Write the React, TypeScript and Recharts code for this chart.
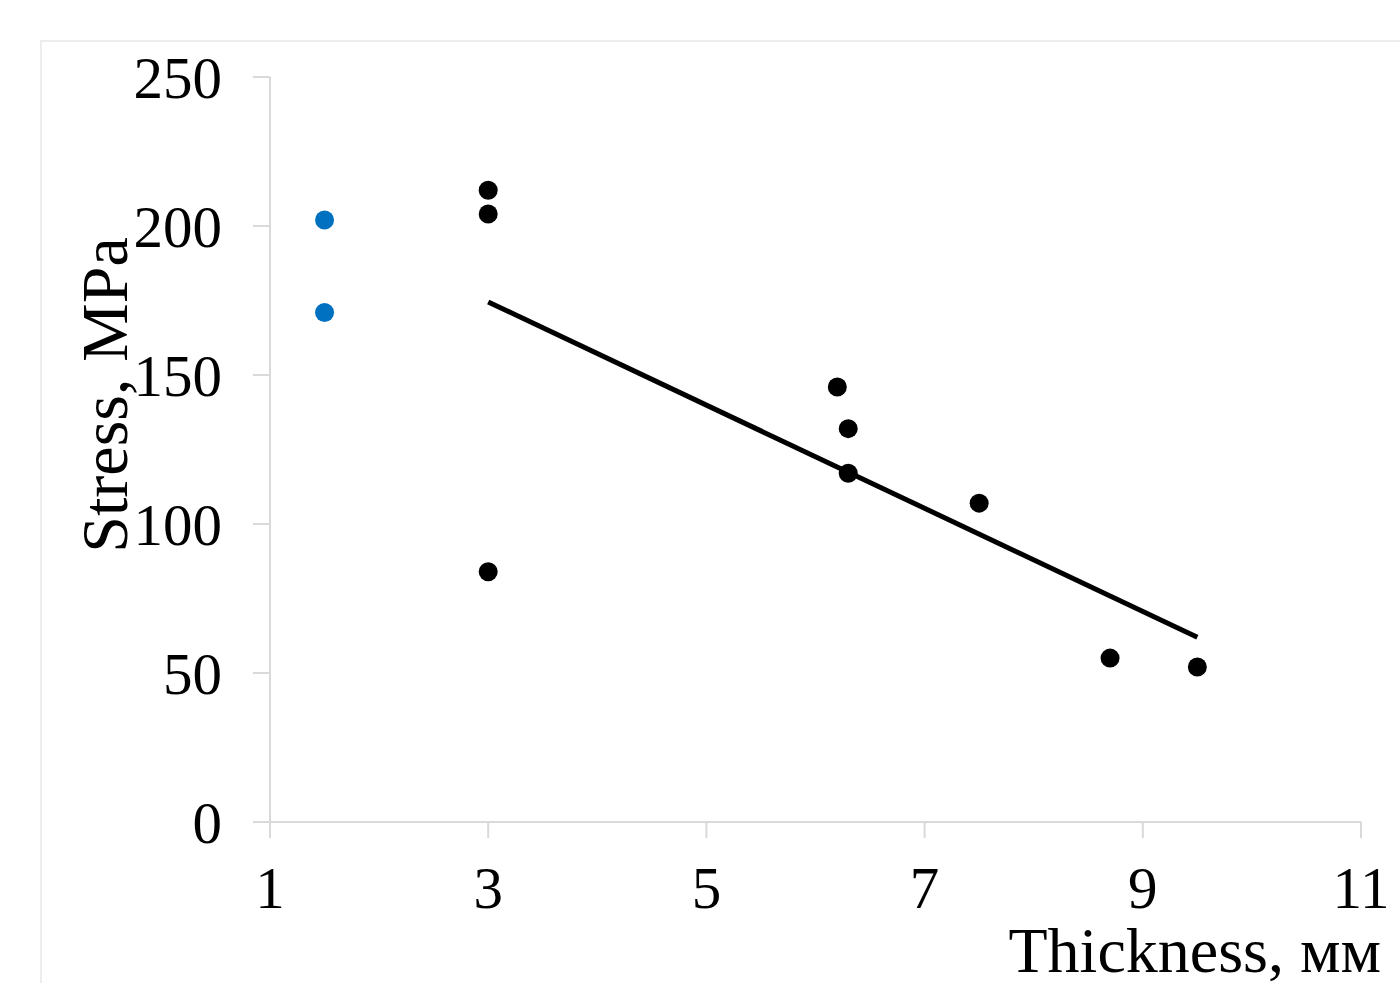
import React from "react";
import { ScatterChart, Scatter, XAxis, YAxis, Label } from "recharts";

// blue series (x = 1.5 mm)
const thinX = [1.5, 1.5];
const thinStress = [202, 171];

// black series
const thickX = [3, 3, 3, 6.2, 6.3, 6.3, 7.5, 8.7, 9.5];
const thickStress = [212, 204, 84, 146, 132, 117, 107, 55, 52];

// linear trend line end points
const trendX = [3, 9.5];
const trendStress = [174.5, 62];

const xTicks = [1, 3, 5, 7, 9, 11];
const yTicks = [0, 50, 100, 150, 200, 250];

const toPoints = (xs: number[], ys: number[]) => xs.map((x, i) => ({ x, y: ys[i] }));

const thinData = toPoints(thinX, thinStress);
const thickData = toPoints(thickX, thickStress);
const trendData = toPoints(trendX, trendStress);

const FONT = "'Liberation Serif', 'Times New Roman', serif";
const AXIS_GREY = "#d9d9d9";

const dot = (color: string) => (props: any) =>
  <circle cx={props.cx} cy={props.cy} r={9.5} fill={color} />;

const YTitle = (props: any) => {
  const vb = props.viewBox || {};
  return (
    <text
      x={0}
      y={0}
      transform={`translate(${vb.x + 127}, 395) rotate(-90)`}
      textAnchor="middle"
      fontFamily={FONT}
      fontSize={66}
      fill="#000"
    >
      Stress, MPa
    </text>
  );
};

const XTitle = () => (
  <text x={1381} y={972} textAnchor="end" fontFamily={FONT} fontSize={64} fill="#000">
    Thickness, мм
  </text>
);

export default function App() {
  return (
    <div style={{ position: "absolute", left: 0, top: 0, width: 1400, height: 983, overflow: "hidden", background: "#fff" }}>
      <div
        style={{
          position: "absolute",
          left: 40,
          top: 40,
          width: 1400,
          height: 1000,
          borderTop: "2px solid #ededed",
          borderLeft: "2px solid #ededed",
        }}
      />
      <div style={{ position: "absolute", left: 0, top: 0 }}>
        <ScatterChart width={1400} height={983} margin={{ top: 77, right: 39, bottom: 0, left: 0 }}>
          <XAxis
            type="number"
            dataKey="x"
            domain={[1, 11]}
            ticks={xTicks}
            height={161}
            stroke={AXIS_GREY}
            strokeWidth={2}
            tickSize={16}
            tickMargin={28}
            tickLine={{ stroke: AXIS_GREY, strokeWidth: 2 }}
            tick={{ fill: "#000", fontSize: 59, fontFamily: FONT }}
            interval={0}
          >
            <Label content={XTitle} />
          </XAxis>
          <YAxis
            type="number"
            dataKey="y"
            domain={[0, 250]}
            ticks={yTicks}
            width={270}
            stroke={AXIS_GREY}
            strokeWidth={2}
            tickSize={17}
            tickMargin={31}
            tickLine={{ stroke: AXIS_GREY, strokeWidth: 2 }}
            tick={{ fill: "#000", fontSize: 59, fontFamily: FONT }}
            interval={0}
          >
            <Label content={YTitle} />
          </YAxis>
          <Scatter
            data={trendData}
            line={{ stroke: "#000", strokeWidth: 5 }}
            shape={() => <g />}
            isAnimationActive={false}
          />
          <Scatter data={thinData} shape={dot("#0070c0")} isAnimationActive={false} />
          <Scatter data={thickData} shape={dot("#000")} isAnimationActive={false} />
        </ScatterChart>
      </div>
    </div>
  );
}
